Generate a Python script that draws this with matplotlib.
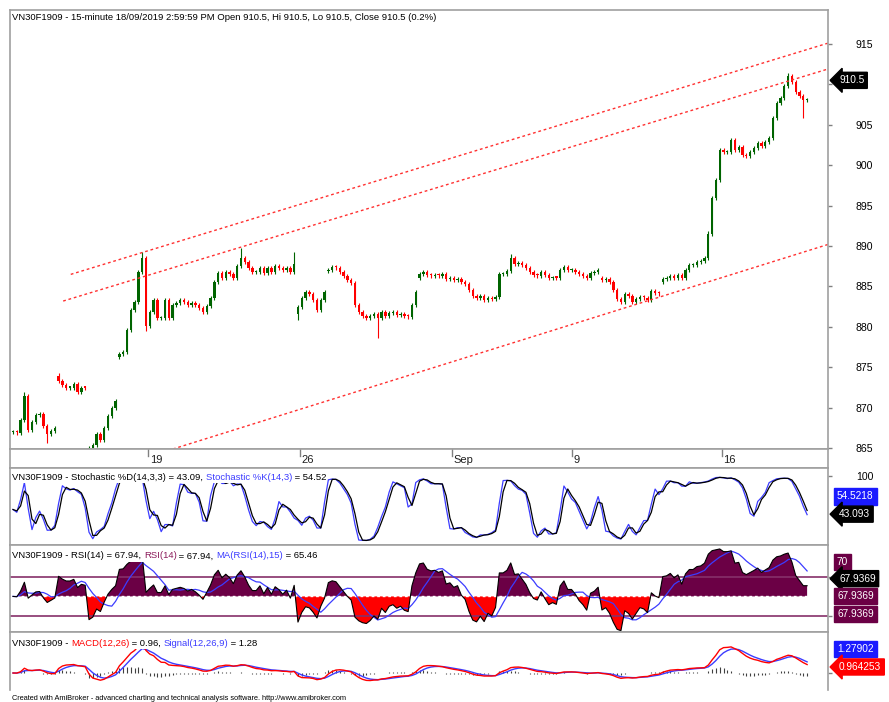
import numpy as np
import pandas as pd
import matplotlib
matplotlib.use('Agg')
import matplotlib.pyplot as plt
from matplotlib.transforms import IdentityTransform
from matplotlib.patches import Rectangle
from matplotlib.font_manager import findfont, FontProperties
from matplotlib.ft2font import FT2Font

plt.rcParams['font.family'] = ['Liberation Sans', 'DejaVu Sans']

W, H = 889, 702

# 15-minute closes, resampled to ~8 bars per session
closes = [
    867.0, 866.9, 868.5, 871.5, 867.2, 868.2, 869.1, 869.2, 867.8, 866.7,
    867.1, 867.5, 873.3, 872.8, 872.5, 872.5, 872.9, 871.9, 872.5, 872.4,
    865.0, 865.4, 866.7, 866.0, 867.5, 869.0, 870.0, 870.8, 876.6, 876.9,
    879.6, 882.1, 883.1, 886.8, 888.5, 880.1, 881.8, 883.3, 881.1, 881.1,
    883.3, 881.1, 882.7, 883.0, 883.3, 883.1, 882.7, 883.0, 882.7, 882.3,
    881.8, 882.6, 883.6, 885.5, 886.7, 886.0, 886.8, 886.5, 886.0, 887.5,
    888.5, 888.0, 887.3, 886.8, 886.8, 887.3, 886.7, 887.3, 886.8, 887.5,
    887.3, 887.0, 887.3, 886.8, 887.8, 882.5, 883.6, 884.3, 884.1, 883.3,
    882.1, 883.3, 884.3, 887.0, 887.4, 887.3, 886.8, 886.3, 885.8, 885.4,
    882.7, 881.8, 881.3, 881.1, 881.3, 881.6, 881.1, 881.8, 881.3, 881.7,
    881.8, 881.5, 881.6, 881.3, 881.2, 882.7, 884.3, 886.5, 886.8, 886.4,
    886.3, 886.4, 886.3, 886.5, 885.9, 886.0, 885.8, 885.9, 885.5, 885.3,
    884.6, 883.8, 883.6, 883.8, 883.3, 883.6, 883.4, 883.7, 886.5, 886.5,
    886.9, 888.5, 887.8, 887.9, 887.6, 887.3, 886.8, 886.4, 886.3, 886.8,
    886.4, 886.0, 886.1, 886.0, 887.0, 887.4, 887.0, 887.0, 886.8, 886.5,
    886.3, 886.0, 886.7, 886.8, 887.0, 885.8, 885.9, 885.5, 884.6, 883.4,
    883.1, 884.1, 883.8, 883.1, 883.4, 883.7, 883.6, 883.3, 884.4, 884.2,
    884.1, 885.9, 886.0, 886.3, 886.1, 886.4, 886.0, 887.0, 887.6, 887.6,
    888.0, 888.1, 888.5, 891.5, 895.9, 898.2, 901.9, 901.6, 901.6, 903.1,
    901.9, 902.3, 901.3, 901.1, 901.6, 902.1, 902.7, 902.4, 902.9, 903.4,
    905.8, 907.7, 908.3, 909.8, 911.0, 910.3, 909.1, 908.6, 908.1, 908.1,
]
# session opens that gap away from the previous close
gap_idx = [12, 20, 28, 75, 83, 107, 155, 171]
gap_open = [873.9, 864.9, 876.3, 881.6, 886.9, 886.1, 886.1, 885.6]
# notable wicks
wick_hi_idx = [3, 12, 34, 60, 74, 131, 183, 204]
wick_hi_val = [871.9, 874.3, 889.3, 889.8, 889.3, 889.0, 891.9, 911.4]
wick_lo_idx = [9, 35, 75, 96, 208]
wick_lo_val = [865.7, 879.5, 880.8, 878.6, 905.8]

# hand drawn channel lines (bar index, price)
chan_x0 = [15.2, 13.2, 42.1]
chan_y0 = [886.5, 883.2, 864.9]
chan_x1 = [214.5, 214.5, 214.5]
chan_y1 = [915.1, 911.9, 890.2]

date_pos = [35.5, 75.5, 115.5, 147.0, 186.5]
date_lbl = ['19', '26', 'Sep', '9', '16']

price_ticks = [865, 870, 875, 880, 885, 890, 895, 900, 905, 910, 915]
price_lbls = ['865', '870', '875', '880', '885', '890', '895', '900', '905', '', '915']

UP, DOWN = '#006400', '#ff0000'
BLUE = '#3c3cff'
PLUM = '#6b0045'
GRID = '#a0a0a0'
FS = 7.6
FS_T = 6.8

c = np.array(closes)
o = np.r_[c[0], c[:-1]]
o[gap_idx] = gap_open
hi = np.maximum(o, c) + 0.25
lo = np.minimum(o, c) - 0.25
hi[wick_hi_idx] = wick_hi_val
lo[wick_lo_idx] = wick_lo_val
x = np.arange(len(c))

# indicators, periods scaled to the coarser bars
cs, hs, ls = pd.Series(c), pd.Series(hi), pd.Series(lo)
ll = ls.rolling(8, min_periods=1).min()
hh = hs.rolling(8, min_periods=1).max()
stoch_k = (100 * (cs - ll) / (hh - ll)).rolling(2, min_periods=1).mean()
stoch_d = stoch_k.rolling(2, min_periods=1).mean()

delta = cs.diff().fillna(0)
up_moves = delta.clip(lower=0)
down_moves = -delta.clip(upper=0)
up_moves.iloc[0] = down_moves.iloc[0] = 1.2  # seed the Wilder averages
gain = up_moves.ewm(alpha=1 / 7, adjust=False).mean()
loss = down_moves.ewm(alpha=1 / 7, adjust=False).mean()
rsi = 100 - 100 / (1 + gain / loss.replace(0, 1e-9))
rsi_ma = rsi.rolling(7, min_periods=1).mean()

macd = cs.ewm(span=6, adjust=False).mean() - cs.ewm(span=13, adjust=False).mean()
signal = macd.ewm(span=4, adjust=False).mean()
hist = macd - signal


def px_rect(top, bottom, left=10, right=828):
    return [left / W, 1 - bottom / H, (right - left) / W, (bottom - top) / H]


fig = plt.figure(figsize=(W / 100, H / 100), dpi=100)
ax = fig.add_axes(px_rect(10, 449))
ax_d = fig.add_axes(px_rect(449, 468))
ax_s = fig.add_axes(px_rect(468, 545))
ax_r = fig.add_axes(px_rect(545, 632))
ax_m = fig.add_axes(px_rect(632, 690))

for a in (ax, ax_d, ax_s, ax_r, ax_m):
    a.set_xlim(-0.79, 214.5)
    a.set_xticks([])
    a.yaxis.tick_right()
    a.tick_params(axis='y', length=3, pad=17, labelsize=FS, color='#808080', width=1)
    for sp in a.spines.values():
        sp.set_color(GRID)
        sp.set_linewidth(1.2)
ax_m.spines['bottom'].set_visible(False)

# price panel
ax.set_ylim(864.9, 919.2)
ax.set_yticks(price_ticks)
ax.set_yticklabels(price_lbls)
colors = np.where(c >= o, UP, DOWN)
ax.vlines(x, lo, hi, colors=colors, lw=0.8)
body = np.where(np.abs(c - o) < 0.15, 0.15, c - o)
ax.bar(x, body, bottom=o, width=0.62, color=colors, linewidth=0)
for x0, y0, x1, y1 in zip(chan_x0, chan_y0, chan_x1, chan_y1):
    ax.plot([x0, x1], [y0, y1], color='#ff3030', lw=1, ls=(0, (2, 2)))

# date strip
ax_d.set_ylim(0, 1)
ax_d.set_yticks([])
for p, lbl in zip(date_pos, date_lbl):
    ax_d.plot([p, p], [1, 0.62], color='#808080', lw=1)
    ax_d.text(p + 0.5, 0.42, lbl, fontsize=FS + 0.4, va='center', ha='left', color='#202020')

# stochastic
ax_s.set_ylim(-3, 112)
ax_s.set_yticks([100])
ax_s.plot(x, stoch_k, color=BLUE, lw=0.9)
ax_s.plot(x, stoch_d, color='black', lw=0.9)

# RSI
ax_r.set_ylim(14, 102)
ax_r.set_yticks([30, 70])
ax_r.set_yticklabels(['', ''])
ax_r.fill_between(x, rsi, 50, where=rsi >= 50, color=PLUM, interpolate=True, lw=0)
ax_r.fill_between(x, rsi, 50, where=rsi < 50, color='red', interpolate=True, lw=0)
ax_r.axhline(70, color='#86306a', lw=1.2)
ax_r.axhline(30, color='#86306a', lw=1.2)
ax_r.axhline(50, color='white', lw=1, ls=(0, (2, 2)))
ax_r.plot(x, rsi_ma, color=BLUE, lw=0.9)
ax_r.plot(x, rsi, color='black', lw=0.8)

# MACD
ax_m.set_ylim(-2.72, 6.56)
ax_m.set_yticks([0])
ax_m.set_yticklabels([''])
ax_m.vlines(x, 0, hist, colors='#404040', lw=0.8)
ax_m.plot(x, signal, color=BLUE, lw=1)
ax_m.plot(x, macd, color='red', lw=1)

# pen advance of a string, in pixels at 100 dpi
ft = FT2Font(findfont(FontProperties(family='Liberation Sans')))


def advance(s, size):
    ft.set_size(size, 100)
    return sum(ft.load_char(ord(ch)).linearHoriAdvance for ch in s) / 65536


def rich_title(a, x_px, y_px, parts, size=FS_T):
    full = ''.join(s for s, _ in parts)
    total = advance(full, size)
    hgt = size * 100 / 72 * 1.25
    a.add_patch(Rectangle((x_px - 1, H - y_px - hgt / 2), total + 2, hgt, transform=IdentityTransform(),
                          facecolor='white', edgecolor='none', zorder=9, clip_on=False))
    for s, col in parts:
        a.text(x_px, H - y_px, s, transform=IdentityTransform(), color=col, fontsize=size,
               va='center', ha='left', zorder=10)
        x_px += advance(s, size)


rich_title(ax, 12, 17, [('VN30F1909 - 15-minute 18/09/2019 2:59:59 PM Open 910.5, Hi 910.5, '
                         'Lo 910.5, Close 910.5 (0.2%)', 'black')])
rich_title(ax_s, 12, 477, [('VN30F1909 - Stochastic %D(14,3,3) = 43.09, ', 'black'),
                           ('Stochastic %K(14,3)', BLUE), (' = 54.52', 'black')])
rich_title(ax_r, 12, 556, [('VN30F1909 - RSI(14) = 67.94, ', 'black'), ('RSI(14)', '#8b1a5a'),
                           (' = 67.94, ', 'black'), ('MA(RSI(14),15)', BLUE), (' = 65.46', 'black')])
rich_title(ax_m, 12, 643, [('VN30F1909 - ', 'black'), ('MACD(12,26)', 'red'), (' = 0.96, ', 'black'),
                           ('Signal(12,26,9)', BLUE), (' = 1.28', 'black')])

fig.text(12 / W, 1 - 699 / H, 'Created with AmiBroker - advanced charting and technical analysis '
         'software. http://www.amibroker.com', fontsize=5.3, va='center', ha='left')


def tag(a, value, label, fc, arrow=False, dy=0):
    y_disp = a.transData.transform((0, value))[1] + dy
    style = 'larrow,pad=0.3' if arrow else 'square,pad=0.3'
    x_disp = 839 if arrow else 837
    fig.text(x_disp, y_disp, label, transform=IdentityTransform(), color='white', fontsize=7.3,
             va='center', ha='left', zorder=12, bbox=dict(boxstyle=style, fc=fc, ec=fc))


tag(ax, 910.5, '910.5', 'black', arrow=True)
tag(ax_s, 54.52, '54.5218', '#1a1aff', dy=10)
tag(ax_s, 43.09, '43.093', 'black', arrow=True)
tag(ax_r, 70, '70', PLUM, dy=15)
tag(ax_r, 67.94, '67.9369', 'black', arrow=True)
tag(ax_r, 67.94, '67.9369', PLUM, dy=-17.5)
tag(ax_r, 67.94, '67.9369', PLUM, dy=-35)
tag(ax_m, 1.279, '1.27902', '#1a1aff', dy=16)
tag(ax_m, 0.964, '0.964253', 'red', arrow=True)

fig.savefig('out.png', dpi=100)
